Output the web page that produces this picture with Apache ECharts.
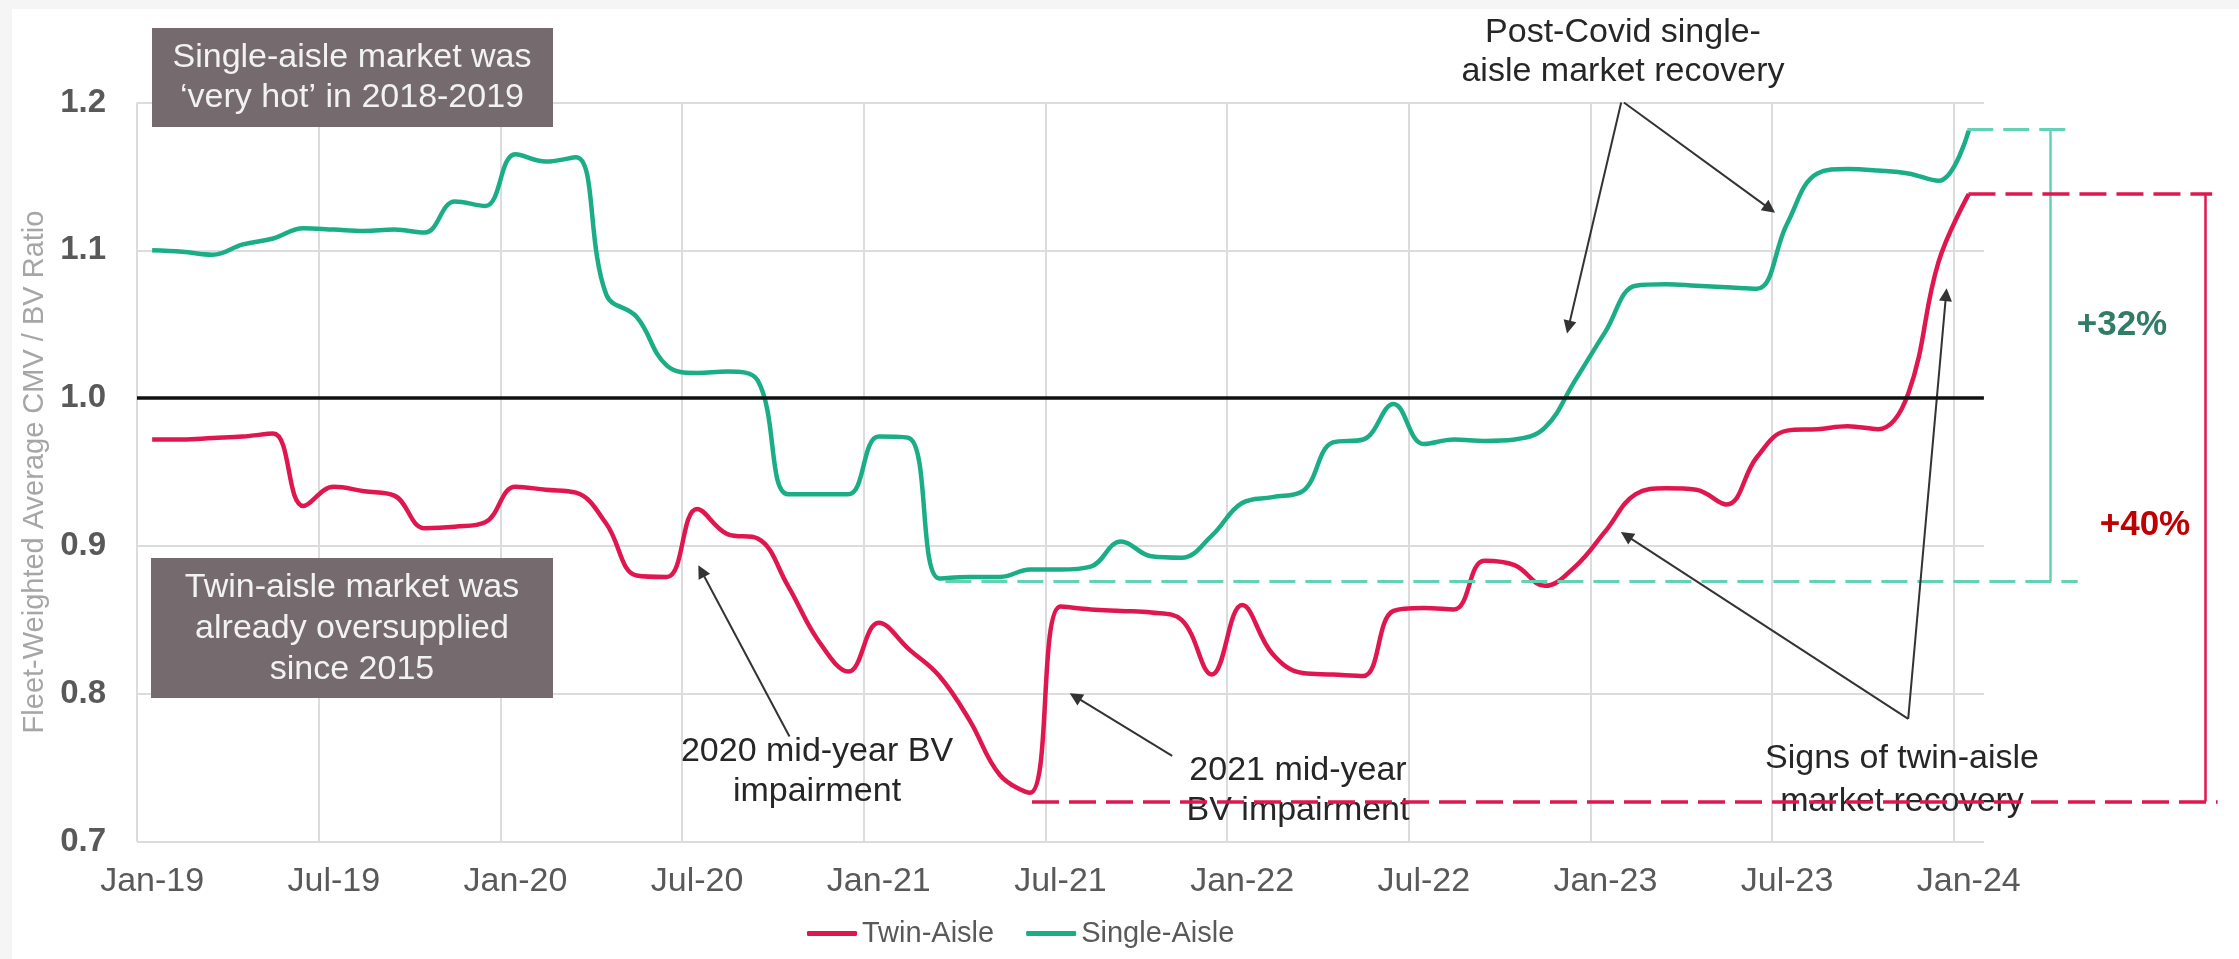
<!DOCTYPE html>
<html lang="en">
<head>
<meta charset="UTF-8">
<title>Fleet-Weighted Average CMV / BV Ratio</title>
<style>
    * { margin: 0; }
    html, body { background: #fff; }
    #chart { width: 2239px; height: 959px; }
</style>
<script src="https://cdn.jsdelivr.net/npm/echarts@6/dist/echarts.min.js"></script>
</head>
<body>
<div id="chart"></div>
<script>
// one category per month, each point sits mid-month
const months = [
    'Jan-19','Feb-19','Mar-19','Apr-19','May-19','Jun-19','Jul-19','Aug-19','Sep-19','Oct-19','Nov-19','Dec-19',
    'Jan-20','Feb-20','Mar-20','Apr-20','May-20','Jun-20','Jul-20','Aug-20','Sep-20','Oct-20','Nov-20','Dec-20',
    'Jan-21','Feb-21','Mar-21','Apr-21','May-21','Jun-21','Jul-21','Aug-21','Sep-21','Oct-21','Nov-21','Dec-21',
    'Jan-22','Feb-22','Mar-22','Apr-22','May-22','Jun-22','Jul-22','Aug-22','Sep-22','Oct-22','Nov-22','Dec-22',
    'Jan-23','Feb-23','Mar-23','Apr-23','May-23','Jun-23','Jul-23','Aug-23','Sep-23','Oct-23','Nov-23','Dec-23',
    'Jan-24'
];
const twinAisle = [
    0.972, 0.972, 0.973, 0.974, 0.976, 0.927, 0.940, 0.937, 0.934, 0.912,
    0.913, 0.916, 0.940, 0.938, 0.936, 0.915, 0.880, 0.879, 0.925, 0.908,
    0.905, 0.873, 0.836, 0.815, 0.848, 0.830, 0.812, 0.782, 0.745, 0.733,
    0.859, 0.857, 0.856, 0.855, 0.850, 0.813, 0.860, 0.827, 0.814, 0.813,
    0.812, 0.856, 0.858, 0.857, 0.890, 0.887, 0.873, 0.886, 0.910, 0.935,
    0.939, 0.938, 0.928, 0.960, 0.978, 0.979, 0.981, 0.979, 1.003, 1.092,
    1.138
];
const singleAisle = [
    1.100, 1.099, 1.097, 1.104, 1.108, 1.115, 1.114, 1.113, 1.114, 1.112,
    1.133, 1.130, 1.165, 1.160, 1.163, 1.070, 1.055, 1.022, 1.017, 1.018,
    1.012, 0.935, 0.935, 0.935, 0.974, 0.973, 0.878, 0.879, 0.879, 0.884,
    0.884, 0.886, 0.903, 0.893, 0.892, 0.907, 0.929, 0.933, 0.937, 0.970,
    0.972, 0.996, 0.969, 0.972, 0.971, 0.972, 0.980, 1.012, 1.045, 1.076,
    1.077, 1.076, 1.075, 1.074, 1.118, 1.152, 1.155, 1.154, 1.152, 1.147,
    1.181
];
const yTicks = [0.7, 0.8, 0.9, 1.0, 1.1, 1.2];

// bracket levels (ratio) and where they sit, in months from Jan-19
const singleLow = 0.876, singleHigh = 1.182;
const twinLow = 0.727, twinHigh = 1.1385;

// arrows: [from, to] as [month, ratio]
const arrows = [
    [[49.02, 1.200], [47.28, 1.048]],
    [[49.11, 1.200], [53.93, 1.128]],
    [[21.55, 0.771], [18.64, 0.883]],
    [[34.19, 0.758], [30.99, 0.798]],
    [[58.50, 0.783], [49.19, 0.907]],
    [[58.50, 0.783], [59.75, 1.070]]
];

const RED = '#e0174f';
const GREEN = '#1bae86';
const MINT = '#62d2b4';
const FONT = '"Liberation Sans", Arial, sans-serif';
const MONTH_PX = 30.277;
const LEFT = 137;
const TOP = 102.5;
const HEIGHT = 739;

const brackets = [
    {coords: [[26.7, singleLow], [64.1, singleLow]], lineStyle: {color: MINT, width: 3, type: [26, 10], opacity: 1}},
    {coords: [[60.45, singleHigh], [63.7, singleHigh]], lineStyle: {color: MINT, width: 3, type: [26, 10], opacity: 1}},
    {coords: [[63.19, singleHigh], [63.19, singleLow]], lineStyle: {color: MINT, width: 2.5, type: 'solid', opacity: 1}},
    {coords: [[29.56, twinLow], [68.72, twinLow]], lineStyle: {color: RED, width: 3.5, type: [27, 10], opacity: 1}},
    {coords: [[60.49, twinHigh], [68.54, twinHigh]], lineStyle: {color: RED, width: 3.5, type: [27, 10], opacity: 1}},
    {coords: [[68.31, twinHigh], [68.31, twinLow]], lineStyle: {color: RED, width: 2.5, type: 'solid', opacity: 1}}
];

function note(text, x, y, opts) {
    opts = opts || {};
    return {
        type: 'text', x: x, y: y, z: 1, silent: true,
        style: {
            text: text, fill: opts.fill || '#262626',
            fontSize: opts.size || 34, fontFamily: FONT, fontWeight: opts.weight || 'normal',
            align: 'center', verticalAlign: 'middle', lineHeight: opts.lh || 40
        }
    };
}

const splitColors = [];
for (let i = 0; i < 11; i++) splitColors.push('#dcdcdc');
splitColors.push('rgba(0,0,0,0)');

var myChart = echarts.init(document.getElementById('chart'));
myChart.setOption({
    animation: false,
    backgroundColor: '#fff',
    grid: [
        {left: LEFT, top: TOP, width: months.length * MONTH_PX, height: HEIGHT, outerBoundsMode: 'none'},
        {left: LEFT, top: TOP, width: 72 * MONTH_PX, height: HEIGHT, outerBoundsMode: 'none'}
    ],
    legend: {
        data: ['Twin-Aisle', 'Single-Aisle'],
        left: 802, top: 914,
        icon: 'roundRect', itemWidth: 50, itemHeight: 5, itemGap: 32,
        textStyle: {color: '#595959', fontSize: 29, fontFamily: FONT}
    },
    xAxis: [
        {
            type: 'category', data: months, boundaryGap: true, gridIndex: 0,
            axisLine: {show: false}, axisTick: {show: false},
            axisLabel: {interval: 5, color: '#595959', fontSize: 34, fontFamily: FONT, margin: 23},
            splitLine: {show: true, interval: 5, showMaxLine: false, lineStyle: {color: splitColors, width: 2}}
        },
        {type: 'value', gridIndex: 1, min: 0, max: 72, show: false}
    ],
    yAxis: [
        {
            type: 'value', gridIndex: 0, min: yTicks[0], max: yTicks[yTicks.length - 1], interval: 0.1,
            name: 'Fleet-Weighted Average CMV / BV Ratio',
            nameLocation: 'middle', nameGap: 88,
            nameTextStyle: {color: '#a6a6a6', fontSize: 29, fontFamily: FONT},
            axisLine: {show: false}, axisTick: {show: false},
            axisLabel: {
                color: '#595959', fontSize: 33, fontWeight: 'bold', fontFamily: FONT, margin: 31,
                formatter: function (v) { return v.toFixed(1); }
            },
            splitLine: {lineStyle: {color: '#dcdcdc', width: 2}}
        },
        {type: 'value', gridIndex: 1, min: 0.7, max: 1.2, show: false}
    ],
    series: [
        {
            name: 'Twin-Aisle', type: 'line', data: twinAisle, z: 3,
            smooth: 0.4, showSymbol: false, symbol: 'none',
            itemStyle: {color: RED}, lineStyle: {color: RED, width: 4.5},
            markLine: {
                silent: true, symbol: 'none', label: {show: false},
                lineStyle: {color: '#111', width: 3.5, type: 'solid', opacity: 1},
                data: [{yAxis: 1.0}]
            }
        },
        {
            name: 'Single-Aisle', type: 'line', data: singleAisle, z: 3,
            smooth: 0.4, showSymbol: false, symbol: 'none',
            itemStyle: {color: GREEN}, lineStyle: {color: GREEN, width: 4.5}
        },
        {
            type: 'lines', coordinateSystem: 'cartesian2d', xAxisIndex: 1, yAxisIndex: 1,
            z: 4, silent: true, symbol: 'none',
            lineStyle: {opacity: 1, curveness: 0},
            data: brackets
        },
        {
            type: 'lines', coordinateSystem: 'cartesian2d', xAxisIndex: 1, yAxisIndex: 1,
            z: 4, silent: true, symbol: ['none', 'triangle'], symbolSize: 13,
            lineStyle: {color: '#333', width: 2, curveness: 0, opacity: 1},
            data: arrows.map(function (a) { return {coords: a}; })
        }
    ],
    graphic: [
        {type: 'rect', silent: true, shape: {x: 0, y: 0, width: 2239, height: 9}, style: {fill: '#f5f5f5'}},
        {type: 'rect', silent: true, shape: {x: 0, y: 0, width: 12, height: 959}, style: {fill: '#f5f5f5'}},
        {type: 'rect', silent: true, z: 1, shape: {x: 152, y: 28, width: 401, height: 99}, style: {fill: '#756a6e'}},
        note('Single-aisle market was\n\u2018very hot\u2019 in 2018-2019', 352, 78, {fill: '#f2f2f2'}),
        {type: 'rect', silent: true, z: 1, shape: {x: 151, y: 558, width: 402, height: 140}, style: {fill: '#756a6e'}},
        note('Twin-aisle market was\nalready oversupplied\nsince 2015', 352, 629, {fill: '#f2f2f2', lh: 41}),
        note('Post-Covid single-\naisle market recovery', 1623, 52, {lh: 39}),
        note('2020 mid-year BV\nimpairment', 817, 772),
        note('2021 mid-year\nBV impairment', 1298, 791),
        note('Signs of twin-aisle\nmarket recovery', 1902, 780, {lh: 43}),
        note('+32%', 2122, 325, {fill: '#2e7d64', weight: 'bold', size: 35}),
        note('+40%', 2145, 525, {fill: '#c00000', weight: 'bold', size: 35})
    ]
});
window.onresize = myChart.resize;
</script>
</body>
</html>
